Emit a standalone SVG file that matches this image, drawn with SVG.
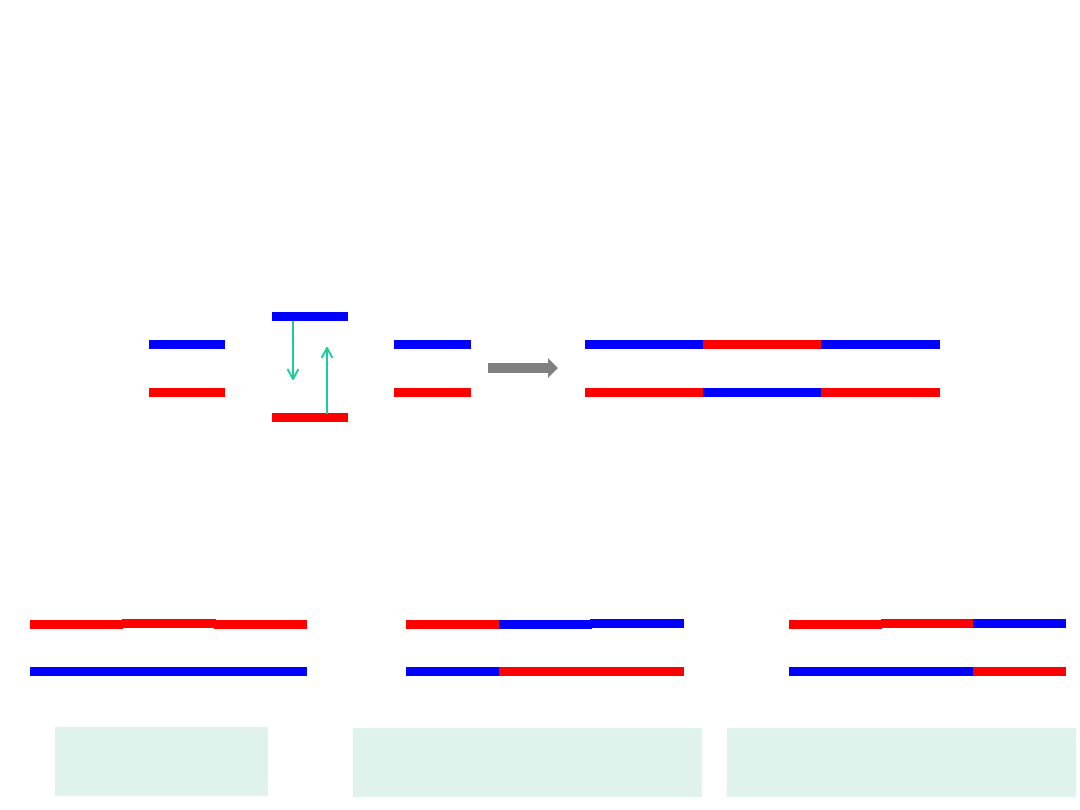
<svg xmlns="http://www.w3.org/2000/svg" width="1080" height="810" viewBox="0 0 1080 810">
<style>
.b{fill:#0000FF}
.r{fill:#FF0000}
.box{fill:#DFF2EC;stroke:#E6F5F0;stroke-width:0.5}
.t{stroke:#1DCC9C;stroke-width:2;fill:none}
</style>
<defs>
<marker id="ah" viewBox="0 0 12 12" refX="11" refY="6" markerWidth="12" markerHeight="12" markerUnits="userSpaceOnUse" orient="auto">
<path d="M1,0.5 L11,6 L1,11.5" fill="none" stroke="#1DCC9C" stroke-width="2"/>
</marker>
</defs>
<rect width="1080" height="810" fill="#FFFFFF"/>
<g id="levels-left">
<rect class="b" x="149" y="340" width="76" height="9"/>
<rect class="r" x="149" y="388" width="76" height="9"/>
</g>
<g id="levels-middle">
<rect class="b" x="272" y="312" width="76" height="9"/>
<rect class="r" x="272" y="413" width="76" height="9"/>
</g>
<g id="levels-right">
<rect class="b" x="394" y="340" width="77" height="9"/>
<rect class="r" x="394" y="388" width="77" height="9"/>
</g>
<g id="connectors">
<line class="t" x1="293" y1="321" x2="293" y2="379" marker-end="url(#ah)"/>
<line class="t" x1="327" y1="414" x2="327" y2="348" marker-end="url(#ah)"/>
<polygon points="488,363 548,363 548,358 558,368 548,378 548,373 488,373" fill="#808080"/>
</g>
<g id="strands-result">
<rect class="b" x="585" y="340" width="118" height="9"/>
<rect class="r" x="703" y="340" width="118" height="9"/>
<rect class="b" x="821" y="340" width="119" height="9"/>
<rect class="r" x="585" y="388" width="118" height="9"/>
<rect class="b" x="703" y="388" width="118" height="9"/>
<rect class="r" x="821" y="388" width="119" height="9"/>
</g>
<g id="pair-1">
<rect class="r" x="30" y="620" width="93" height="9"/>
<rect class="r" x="122" y="619" width="94" height="9"/>
<rect class="r" x="214" y="620" width="93" height="9"/>
<rect class="b" x="30" y="667" width="277" height="9"/>
</g>
<g id="pair-2">
<rect class="r" x="406" y="620" width="93" height="9"/>
<rect class="b" x="499" y="620" width="93" height="9"/>
<rect class="b" x="590" y="619" width="94" height="9"/>
<rect class="b" x="406" y="667" width="93" height="9"/>
<rect class="r" x="499" y="667" width="185" height="9"/>
</g>
<g id="pair-3">
<rect class="r" x="789" y="620" width="93" height="9"/>
<rect class="r" x="881" y="619" width="92" height="9"/>
<rect class="b" x="973" y="619" width="93" height="9"/>
<rect class="b" x="789" y="667" width="184" height="9"/>
<rect class="r" x="973" y="667" width="93" height="9"/>
</g>
<g id="box-1"><rect class="box" x="55" y="727" width="213" height="69"/></g>
<g id="box-2"><rect class="box" x="353" y="728" width="349" height="69"/></g>
<g id="box-3"><rect class="box" x="727" y="728" width="349" height="69"/></g>
</svg>
